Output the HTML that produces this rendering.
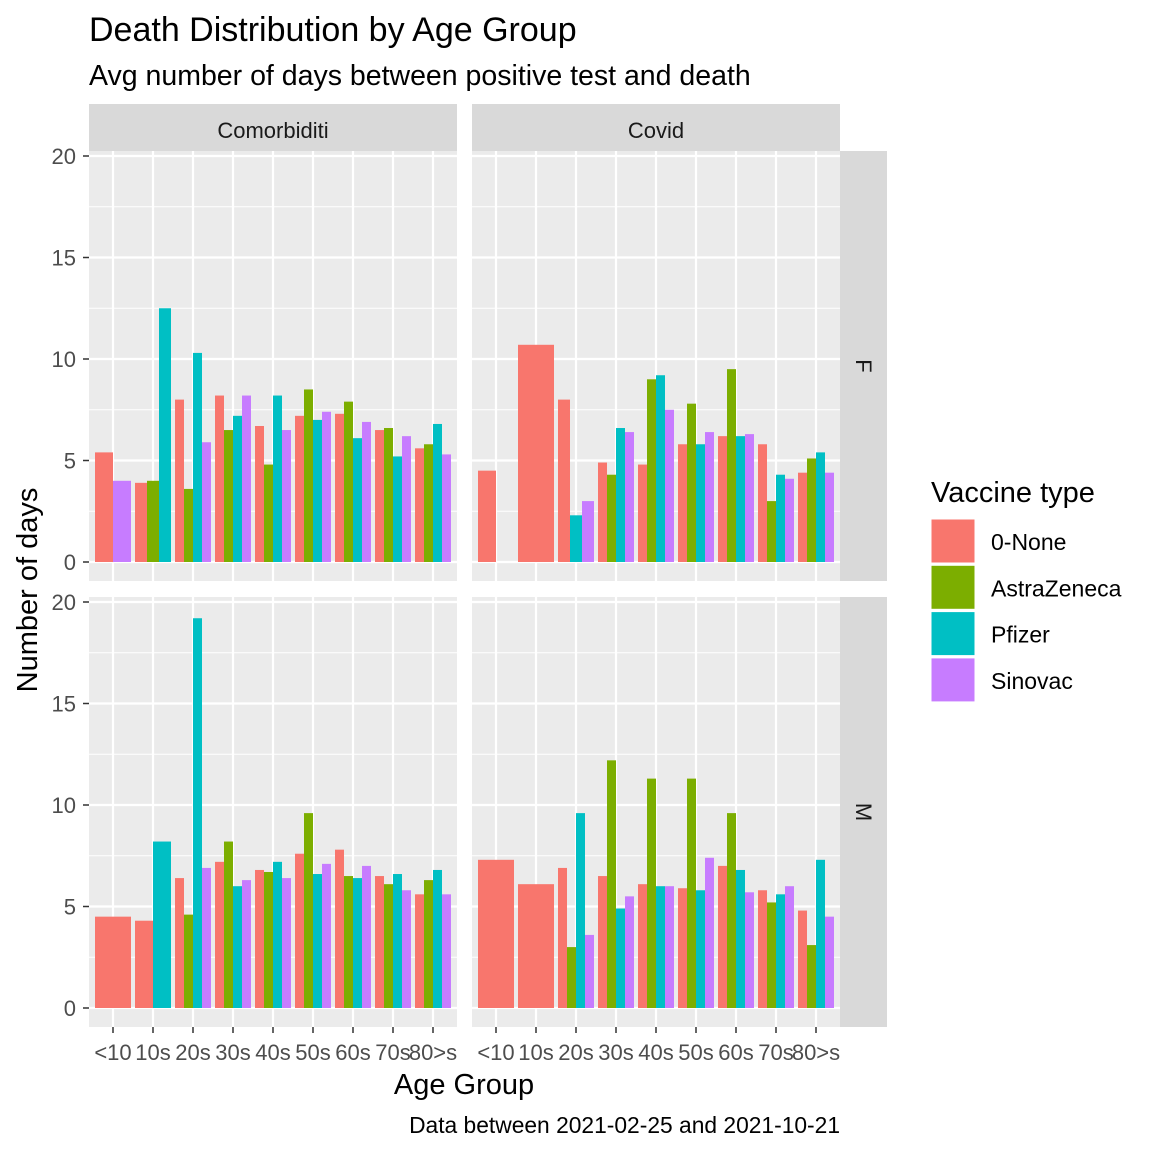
<!DOCTYPE html>
<html><head><meta charset="utf-8"><style>
body{margin:0;background:#fff}
svg text{font-family:"Liberation Sans",Arial,sans-serif}
</style></head><body>
<svg id="chart" width="1152" height="1152" xmlns="http://www.w3.org/2000/svg">
<rect width="1152" height="1152" fill="#fff"/>
<text x="89" y="41" font-size="34" fill="#000">Death Distribution by Age Group</text>
<text x="89" y="85" font-size="28.5" fill="#000">Avg number of days between positive test and death</text>
<text transform="translate(37,590) rotate(-90)" text-anchor="middle" font-size="29" fill="#000">Number of days</text>
<text x="464" y="1094" text-anchor="middle" font-size="29" fill="#000">Age Group</text>
<text x="840" y="1133" text-anchor="end" font-size="22.8" fill="#000">Data between 2021-02-25 and 2021-10-21</text>
<g id="plots"></g>
<g>
<text x="931" y="502" font-size="29" fill="#000">Vaccine type</text>
<g id="legend"></g>
</g>
</svg>
<script>
const categories=["<10","10s","20s","30s","40s","50s","60s","70s","80>s"];
const groups=["0-None","AstraZeneca","Pfizer","Sinovac"];
const colors=["#F8766D","#7CAE00","#00BFC4","#C77CFF"];
const yTicks=[0,5,10,15,20];
// values per category: [None, AstraZeneca, Pfizer, Sinovac], null = absent
const comorbF=[[5.4,null,null,4.0],[3.9,4.0,12.5,null],[8.0,3.6,10.3,5.9],[8.2,6.5,7.2,8.2],[6.7,4.8,8.2,6.5],[7.2,8.5,7.0,7.4],[7.3,7.9,6.1,6.9],[6.5,6.6,5.2,6.2],[5.6,5.8,6.8,5.3]];
const covidF=[[4.5,null,0,null],[10.7,null,null,null],[8.0,null,2.3,3.0],[4.9,4.3,6.6,6.4],[4.8,9.0,9.2,7.5],[5.8,7.8,5.8,6.4],[6.2,9.5,6.2,6.3],[5.8,3.0,4.3,4.1],[4.4,5.1,5.4,4.4]];
const comorbM=[[4.5,null,null,null],[4.3,null,8.2,null],[6.4,4.6,19.2,6.9],[7.2,8.2,6.0,6.3],[6.8,6.7,7.2,6.4],[7.6,9.6,6.6,7.1],[7.8,6.5,6.4,7.0],[6.5,6.1,6.6,5.8],[5.6,6.3,6.8,5.6]];
const covidM=[[7.3,null,null,null],[6.1,null,null,null],[6.9,3.0,9.6,3.6],[6.5,12.2,4.9,5.5],[6.1,11.3,6.0,6.0],[5.9,11.3,5.8,7.4],[7.0,9.6,6.8,5.7],[5.8,5.2,5.6,6.0],[4.8,3.1,7.3,4.5]];

const NS="http://www.w3.org/2000/svg";
function mk(tag,attrs,parent){const e=document.createElementNS(NS,tag);for(const k in attrs)e.setAttribute(k,attrs[k]);parent.appendChild(e);return e;}
const plots=document.getElementById('plots');
const panels=[
 {d:comorbF,x0:89,y0:151,name:'comorbiditi-f',left:true,bottom:false,strip:'Comorbiditi',rs:'F'},
 {d:covidF,x0:472,y0:151,name:'covid-f',left:false,bottom:false,strip:'Covid',rs:'F'},
 {d:comorbM,x0:89,y0:597,name:'comorbiditi-m',left:true,bottom:true,strip:null,rs:'M'},
 {d:covidM,x0:472,y0:597,name:'covid-m',left:false,bottom:true,strip:null,rs:'M'}];
const W=368,H=430,unit=40,pyu=20.3;
panels.forEach(p=>{
 const g=mk('g',{},plots);
 
 
 const xs=i=>p.x0+(i+0.6)*unit;
 const y0=p.y0+H-19;
 const ys=v=>y0-v*pyu;
 mk('rect',{x:p.x0,y:p.y0,width:W,height:H,fill:'#EBEBEB'},g);
 for(let v=2.5;v<20;v+=5)mk('line',{x1:p.x0,x2:p.x0+W,y1:ys(v),y2:ys(v),stroke:'#fff','stroke-width':1},g);
 yTicks.forEach(v=>mk('line',{x1:p.x0,x2:p.x0+W,y1:ys(v),y2:ys(v),stroke:'#fff','stroke-width':2.2},g));
 categories.forEach((c,i)=>mk('line',{x1:xs(i),x2:xs(i),y1:p.y0,y2:p.y0+H,stroke:'#fff','stroke-width':2.2},g));
 p.d.forEach((vals,i)=>{
  const present=[];vals.forEach((v,k)=>{if(v!==null)present.push(k);});
  const bw=0.9*unit/present.length;
  present.forEach((k,j)=>{
   const v=vals[k];
   const r=mk('rect',{x:xs(i)-0.45*unit+j*bw,y:ys(v),width:bw,height:v*pyu,fill:colors[k]},g);
   
   
  });
 });
 if(p.left){yTicks.forEach(v=>{
  mk('line',{x1:p.x0-6,x2:p.x0,y1:ys(v),y2:ys(v),stroke:'#333','stroke-width':1.5},g);
  const t=mk('text',{x:p.x0-13,y:ys(v)+8,'text-anchor':'end','font-size':22,fill:'#4D4D4D'},g);t.textContent=v;
  
  
 });}
 if(p.bottom){categories.forEach((c,i)=>{
  mk('line',{x1:xs(i),x2:xs(i),y1:p.y0+H,y2:p.y0+H+6,stroke:'#333','stroke-width':1.5},g);
  const t=mk('text',{x:xs(i),y:p.y0+H+33,'text-anchor':'middle','font-size':22,fill:'#4D4D4D'},g);t.textContent=c;
  
  
 });}
 if(p.strip){
  mk('rect',{x:p.x0,y:104,width:W,height:47,fill:'#D9D9D9'},g);
  const t=mk('text',{x:p.x0+W/2,y:138,'text-anchor':'middle','font-size':22,fill:'#1A1A1A'},g);t.textContent=p.strip;
  
  
 }
 if(!p.left){
  mk('rect',{x:840,y:p.y0,width:47,height:H,fill:'#D9D9D9'},g);
  const t=mk('text',{transform:'translate(856,'+(p.y0+H/2)+') rotate(90)','text-anchor':'middle','font-size':22,fill:'#1A1A1A'},g);t.textContent=p.rs;
  
  
 }
});
const lg=document.getElementById('legend');
groups.forEach((n,k)=>{
 const y=519+k*46.3;
 const r=mk('rect',{x:931,y:y,width:44,height:44,fill:colors[k],stroke:'#fff','stroke-width':1},lg);
 
 
 const t=mk('text',{x:991,y:y+31,'font-size':23,fill:'#000'},lg);t.textContent=n;
 
 
});
</script>
</body></html>
